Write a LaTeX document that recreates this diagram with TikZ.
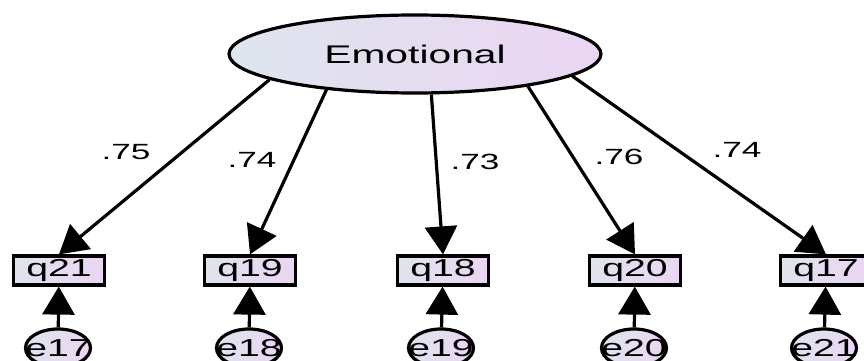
\documentclass[tikz,border=0pt]{standalone}
\usepackage{fontspec}
\newfontfamily\amos[FakeStretch=1.6]{Liberation Sans}
\usetikzlibrary{arrows.meta,shapes.geometric}
\definecolor{fillL}{RGB}{222,229,238}
\definecolor{fillR}{RGB}{235,213,242}

\begin{document}
\begin{tikzpicture}[x=1pt, y=-1pt,
	lat/.style={ellipse, draw, line width=3.2pt, left color=fillL, right color=fillR, minimum width=372pt, minimum height=78pt, inner sep=0pt, font=\amos\fontsize{25.5}{25.5}\selectfont},
	obs/.style={rectangle, draw, line width=3.2pt, left color=fillL, right color=fillR, minimum width=91pt, minimum height=29pt, inner sep=0pt, font=\amos\fontsize{24.5}{24.5}\selectfont},
	err/.style={ellipse, draw, line width=3.2pt, left color=fillL, right color=fillR, minimum width=65pt, minimum height=38pt, inner sep=0pt, label={[font=\amos\fontsize{24.5}{24.5}\selectfont]center:#1}},
	lbl/.style={font=\amos\fontsize{22}{22}\selectfont, inner sep=0pt},
	load/.style={line width=3.2pt, -{Triangle[length=28pt, width=32pt]}}]
	\useasboundingbox (0,0) rectangle (864,361);

	\node[lat] (emo) at (415,54) {Emotional};

	\node[obs] (q21) at (59,270.5) {q21};
	\node[obs] (q19) at (250,270.5) {q19};
	\node[obs] (q18) at (443,270.5) {q18};
	\node[obs] (q20) at (635,270.5) {q20};
	\node[obs] (q17) at (826,270.5) {q17};

	\node[err=e17] (e17) at (58,348) {};
	\node[err=e18] (e18) at (249,348) {};
	\node[err=e19] (e19) at (441,348) {};
	\node[err=e20] (e20) at (634,348) {};
	\node[err=e21] (e21) at (824,348) {};

	\path[load] (emo.190) edge (q21.north);
	\path[load] (emo.202) edge (q19.north);
	\path[load] (emo.292) edge (q18.north);
	\path[load] (emo.344) edge (q20.north);
	\path[load] (emo.352) edge (q17.north);

	\node[lbl] at (126,152) {.75};
	\node[lbl] at (252,160) {.74};
	\node[lbl] at (475,162) {.73};
	\node[lbl] at (619,157) {.76};
	\node[lbl] at (737,150) {.74};

	\path[load] (e17) edge (q21);
	\path[load] (e18) edge (q19);
	\path[load] (e19) edge (q18);
	\path[load] (e20) edge (q20);
	\path[load] (e21) edge (q17);
\end{tikzpicture}
\end{document}
